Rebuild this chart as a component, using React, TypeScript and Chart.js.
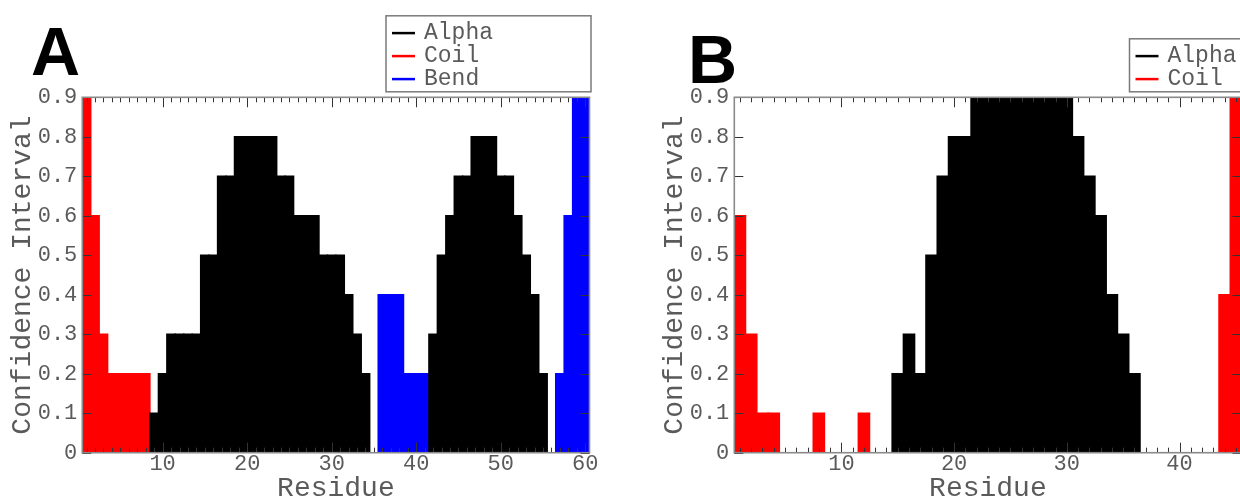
import React, { useEffect, useRef } from 'react';
import { Chart, registerables } from 'chart.js';

Chart.register(...registerables);

// ---------- Panel A data (residue 1..60) ----------
const residuesA = [
  1, 2, 3, 4, 5, 6, 7, 8, 9, 10, 11, 12, 13, 14, 15, 16, 17, 18, 19, 20,
  21, 22, 23, 24, 25, 26, 27, 28, 29, 30, 31, 32, 33, 34, 35, 36, 37, 38, 39, 40,
  41, 42, 43, 44, 45, 46, 47, 48, 49, 50, 51, 52, 53, 54, 55, 56, 57, 58, 59, 60,
];
const alphaA = [
  null, null, null, null, null, null, null, null, 0.1, 0.2,
  0.3, 0.3, 0.3, 0.3, 0.5, 0.5, 0.7, 0.7, 0.8, 0.8,
  0.8, 0.8, 0.8, 0.7, 0.7, 0.6, 0.6, 0.6, 0.5, 0.5,
  0.5, 0.4, 0.3, 0.2, null, null, null, null, null, null,
  null, 0.3, 0.5, 0.6, 0.7, 0.7, 0.8, 0.8, 0.8, 0.7,
  0.7, 0.6, 0.5, 0.4, 0.2, null, null, null, null, null,
];
const coilA = [
  0.9, 0.6, 0.3, 0.2, 0.2, 0.2, 0.2, 0.2, null, null,
  null, null, null, null, null, null, null, null, null, null,
  null, null, null, null, null, null, null, null, null, null,
  null, null, null, null, null, null, null, null, null, null,
  null, null, null, null, null, null, null, null, null, null,
  null, null, null, null, null, null, null, null, null, null,
];
const bendA = [
  null, null, null, null, null, null, null, null, null, null,
  null, null, null, null, null, null, null, null, null, null,
  null, null, null, null, null, null, null, null, null, null,
  null, null, null, null, null, 0.4, 0.4, 0.4, 0.2, 0.2,
  0.2, null, null, null, null, null, null, null, null, null,
  null, null, null, null, null, null, 0.2, 0.6, 0.9, 0.9,
];
const xTicksA = [10, 20, 30, 40, 50, 60];

// ---------- Panel B data (residue 1..45) ----------
const residuesB = [
  1, 2, 3, 4, 5, 6, 7, 8, 9, 10, 11, 12, 13, 14, 15, 16, 17, 18, 19, 20,
  21, 22, 23, 24, 25, 26, 27, 28, 29, 30, 31, 32, 33, 34, 35, 36, 37, 38, 39, 40,
  41, 42, 43, 44, 45,
];
const alphaB = [
  null, null, null, null, null, null, null, null, null, null,
  null, null, null, null, 0.2, 0.3, 0.2, 0.5, 0.7, 0.8,
  0.8, 0.9, 0.9, 0.9, 0.9, 0.9, 0.9, 0.9, 0.9, 0.9,
  0.8, 0.7, 0.6, 0.4, 0.3, 0.2, null, null, null, null,
  null, null, null, null, null,
];
const coilB = [
  0.6, 0.3, 0.1, 0.1, null, null, null, 0.1, null, null,
  null, 0.1, null, null, null, null, null, null, null, null,
  null, null, null, null, null, null, null, null, null, null,
  null, null, null, null, null, null, null, null, null, null,
  null, null, null, 0.4, 0.9,
];
const xTicksB = [10, 20, 30, 40];

const yTickValues = [0, 0.1, 0.2, 0.3, 0.4, 0.5, 0.6, 0.7, 0.8, 0.9];
const yTickLabels = ['0', '0.1', '0.2', '0.3', '0.4', '0.5', '0.6', '0.7', '0.8', '0.9'];

const COLORS: Record<string, string> = { Alpha: '#000000', Coil: '#ff0000', Bend: '#0000ff' };
const FONT = "'Liberation Mono', 'Courier New', monospace";
const TEXT = '#5a5a5a';

const frameTicks = {
  id: 'frameTicks',
  afterDatasetsDraw(chart: any) {
    const { ctx, chartArea } = chart;
    const { left, right, top, bottom } = chartArea;
    const x = chart.scales.x;
    const y = chart.scales.y;
    ctx.save();
    ctx.strokeStyle = '#333';
    ctx.lineWidth = 1;
    ctx.beginPath();
    for (let v = Math.ceil(x.min); v <= x.max; v++) {
      const px = Math.round(x.getPixelForValue(v)) + 0.5;
      const len = v % 10 === 0 ? 10 : 5;
      ctx.moveTo(px, bottom);
      ctx.lineTo(px, bottom - len);
      ctx.moveTo(px, top);
      ctx.lineTo(px, top + len);
    }
    y.ticks.forEach((t: any) => {
      const py = Math.round(y.getPixelForValue(t.value)) + 0.5;
      ctx.moveTo(left, py);
      ctx.lineTo(left + 9, py);
      ctx.moveTo(right, py);
      ctx.lineTo(right - 9, py);
    });
    ctx.stroke();
    ctx.strokeStyle = '#8a8a8a';
    ctx.lineWidth = 1.6;
    ctx.strokeRect(left, top, right - left, bottom - top);
    ctx.restore();
  },
};

const legendBox = {
  id: 'legendBox',
  afterDraw(chart: any, _args: any, opts: any) {
    const { ctx, chartArea } = chart;
    const items = chart.data.datasets;
    const n = items.length;
    const pitch = 23;
    const bottom = chartArea.top - 5.5;
    const top = bottom - (n * pitch + 7);
    const left = chartArea.right - opts.offset;
    const width = 205;
    ctx.save();
    ctx.strokeStyle = '#7a7a7a';
    ctx.lineWidth = 1.5;
    ctx.strokeRect(left, top, width, bottom - top);
    ctx.font = `23px ${FONT}`;
    ctx.textBaseline = 'middle';
    items.forEach((ds: any, i: number) => {
      const yy = bottom - 12.7 - (n - 1 - i) * pitch;
      ctx.strokeStyle = ds.backgroundColor;
      ctx.lineWidth = 2.5;
      ctx.beginPath();
      ctx.moveTo(left + 6, yy);
      ctx.lineTo(left + 29, yy);
      ctx.stroke();
      ctx.fillStyle = TEXT;
      ctx.fillText(ds.label, left + 38, yy);
    });
    ctx.font = "bold 68px 'Liberation Sans', Arial, sans-serif";
    ctx.fillStyle = '#000';
    ctx.textBaseline = 'alphabetic';
    ctx.fillText(opts.letter, opts.letterX, opts.letterY);
    ctx.restore();
  },
};

type Series = { label: string; values: (number | null)[] };

function Panel(props: {
  residues: number[];
  series: Series[];
  xTicks: number[];
  offset: number;
  letter: string;
  letterX: number;
  letterY: number;
  left: number;
}) {
  const ref = useRef<HTMLCanvasElement>(null);
  useEffect(() => {
    const { residues, series, xTicks } = props;
    const chart = new Chart(ref.current as HTMLCanvasElement, {
      type: 'bar',
      data: {
        datasets: series.map((s) => ({
          label: s.label,
          data: residues.map((r, i) => ({ x: r, y: s.values[i] })),
          backgroundColor: COLORS[s.label],
          borderWidth: 0,
          inflateAmount: 0.7,
          barPercentage: 1,
          categoryPercentage: 1,
          grouped: false,
        })),
      } as any,
      options: {
        animation: false,
        responsive: false,
        devicePixelRatio: 1,
        layout: { padding: { top: 97.3, right: 30.5, left: 0, bottom: 0 } },
        plugins: {
          legend: { display: false },
          tooltip: { enabled: false },
          legendBox: { offset: props.offset, letter: props.letter, letterX: props.letterX, letterY: props.letterY },
        } as any,
        scales: {
          x: {
            type: 'linear',
            min: residues[0] - 0.5,
            max: residues[residues.length - 1] + 0.5,
            offset: false,
            grid: { display: false, drawTicks: false },
            border: { display: false },
            afterBuildTicks: (s: any) => {
              s.ticks = xTicks.map((v) => ({ value: v }));
            },
            ticks: {
              color: TEXT,
              font: { family: FONT, size: 22, lineHeight: 1 },
              padding: 0,
              maxRotation: 0,
              autoSkip: false,
              callback: (v: any) => String(v),
            },
            title: {
              display: true,
              text: 'Residue',
              color: TEXT,
              font: { family: FONT, size: 28, lineHeight: 0.75 },
              padding: 0,
            },
            afterFit: (s: any) => {
              s.height = 46.3;
            },
          },
          y: {
            min: 0,
            max: 0.9,
            grid: { display: false, drawTicks: false },
            border: { display: false },
            afterBuildTicks: (s: any) => {
              s.ticks = yTickValues.map((v) => ({ value: v }));
            },
            ticks: {
              color: TEXT,
              font: { family: FONT, size: 22 },
              padding: 5,
              callback: (_v: any, i: number) => yTickLabels[i],
            },
            title: {
              display: true,
              text: 'Confidence Interval',
              color: TEXT,
              font: { family: FONT, size: 28, lineHeight: 1.2 },
              padding: { top: 6, bottom: 0 },
            },
            afterFit: (s: any) => {
              s.width = 82.3;
            },
          },
        } as any,
      },
      plugins: [frameTicks, legendBox] as any,
    });
    return () => chart.destroy();
  }, []);
  return (
    <canvas
      ref={ref}
      width={620}
      height={499}
      style={{ position: 'absolute', left: props.left, top: 0, width: 620, height: 499 }}
    />
  );
}

export default function App() {
  return (
    <div
      style={{
        position: 'fixed',
        left: 0,
        top: 0,
        width: 1240,
        height: 499,
        overflow: 'hidden',
        background: '#ffffff',
      }}
    >
      <Panel
        residues={residuesA}
        series={[
          { label: 'Alpha', values: alphaA },
          { label: 'Coil', values: coilA },
          { label: 'Bend', values: bendA },
        ]}
        xTicks={xTicksA}
        offset={203.5}
        letter="A"
        letterX={31}
        letterY={75}
        left={0}
      />
      <Panel
        residues={residuesB}
        series={[
          { label: 'Alpha', values: alphaB },
          { label: 'Coil', values: coilB },
        ]}
        xTicks={xTicksB}
        offset={112}
        letter="B"
        letterX={36}
        letterY={83}
        left={652}
      />
    </div>
  );
}
